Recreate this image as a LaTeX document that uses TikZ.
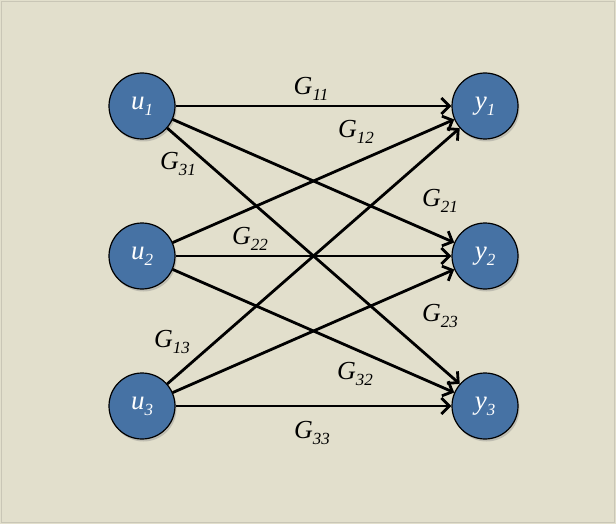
\documentclass[tikz,border=0pt]{standalone}
\usepackage{fontspec}
\setmainfont{Liberation Serif}
\usetikzlibrary{arrows.meta,shadows}
\definecolor{paper}{HTML}{E2DFCC}
\definecolor{frame}{HTML}{C9C6B6}
\definecolor{signal}{HTML}{4672A4}
\newcommand{\gsub}[2]{\textit{#1}\raisebox{-0.5ex}{\fontsize{17}{17}\selectfont\textit{#2}}}

\begin{document}
\begin{tikzpicture}[x=1pt,y=-1pt,
  port/.style={circle,draw=black,line width=1.2pt,fill=signal,minimum size=66pt,inner sep=0pt,
    text=white,font=\fontsize{27}{27}\selectfont,
    drop shadow={shadow xshift=1.5pt,shadow yshift=-2.5pt,opacity=.35}},
  link/.style={line width=2.8pt,-{Straight Barb[length=8pt,width=16pt,line width=2.8pt]}},
  gain/.style={font=\fontsize{26}{26}\selectfont,inner sep=0pt}]
  % background
  \useasboundingbox (0,0) rectangle (616,524);
  \fill[paper] (0,0) rectangle (616,524);
  \draw[frame,line width=0.8pt] (1.5,1.5) rectangle (614.5,522.5);

  % inputs and outputs
  \foreach \i/\ypos in {1/106,2/256,3/406} {
    \node[port] (u\i) at (142,\ypos) {\gsub{u}{\i}};
    \node[port] (y\i) at (485,\ypos) {\gsub{y}{\i}};
  }

  % connections
  \foreach \i in {1,2,3}
    \foreach \j in {1,2,3}
      \draw[link] (u\i) -- (y\j);

  % gain labels
  \foreach \lab/\xpos/\ypos in {11/311/89,12/356/132,31/178/164,21/440/201,22/250/239,
                                23/440/316,13/172/342,32/355/374,33/312/433}
    \node[gain] (g\lab) at (\xpos,\ypos) {\gsub{G}{\lab}};
\end{tikzpicture}
\end{document}
